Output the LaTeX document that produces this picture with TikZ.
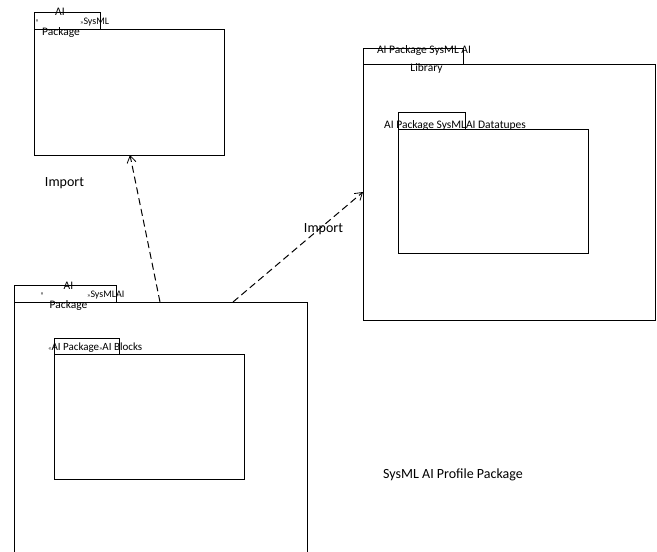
\documentclass[tikz,border=0pt]{standalone}
\usepackage{fontspec}
\setmainfont{Carlito}
\usetikzlibrary{arrows.meta,calc}
\begin{document}
\begin{tikzpicture}[x=1pt,y=-1pt,
  box/.style={draw=black,line width=0.8pt,anchor=north west,inner sep=0pt,outer sep=0pt},
  frame/.style={anchor=north west,inner sep=0pt,outer sep=0pt},
  lbl/.style={inner sep=0pt,font=\fontsize{14}{16}\selectfont},
  tabtxt/.style={inner sep=0pt,font=\fontsize{11.5}{13}\selectfont},
  smtxt/.style={inner sep=0pt,font=\fontsize{10}{12}\selectfont},
  guil/.style={inner sep=0pt,font=\fontsize{6.5}{8}\selectfont},
  imp/.style={draw=black,line width=1pt,dash pattern=on 7pt off 4pt,-{Straight Barb[length=7pt,width=9pt,line width=0.8pt]}}]
\useasboundingbox (0,0) rectangle (657,552);
\fill[white] (0,0) rectangle (657,552);

% top-left package
\node[box,minimum width=66,minimum height=17] (tltab) at (34,12) {};
\node[box,minimum width=190,minimum height=126] (tlbody) at (34,29) {};
\node[tabtxt] (tlai) at (60,12) {AI};
\node[tabtxt] (tlpk) at (61,32) {Package};
\node[guil] (tlgl) at (37,21) {«};
\node[smtxt,anchor=west] (tlsys) at (80,22) {\fontsize{6.5}{8}\selectfont»\fontsize{10}{12}\selectfont SysML};

% right package
\node[box,minimum width=100,minimum height=16] (rtab) at (363,48) {};
\node[box,minimum width=292,minimum height=256] (rbody) at (363,64) {};
\node[tabtxt] (rt1) at (424,50) {AI Package SysML AI};
\node[tabtxt] (rt2) at (426.5,68) {Library};
\node[box,minimum width=67,minimum height=17] (ritab) at (398,112) {};
\node[box,minimum width=190,minimum height=124] (ribody) at (398,129) {};
\node[tabtxt,anchor=west] (rit) at (384,125) {AI Package SysMLAI Datatupes};

% bottom-left package
\node[box,minimum width=102,minimum height=17] (bltab) at (14,285) {};
\node[frame,minimum width=293,minimum height=250] (blbody) at (14,302) {};
\draw[line width=0.8pt] (blbody.south west) -- (blbody.north west) -- (blbody.north east) -- (blbody.south east);
\node[tabtxt] (blai) at (68.5,286) {AI};
\node[guil] (blgl) at (42,294) {«};
\node[smtxt,anchor=west] (blsys) at (87,295) {\fontsize{6.5}{8}\selectfont»\fontsize{10}{12}\selectfont SysMLAI};
\node[tabtxt] (blpk) at (68.5,305) {Package};
\node[box,minimum width=65,minimum height=16] (blitab) at (54,338) {};
\node[box,minimum width=190,minimum height=125] (blibody) at (54,354) {};
\node[tabtxt,anchor=west] (blit) at (48,348) {\fontsize{6.5}{8}\selectfont«\fontsize{11}{13}\selectfont AI Package\fontsize{6.5}{8}\selectfont»\fontsize{11}{13}\selectfont AI Blocks};

% import arrows
\draw[imp] ($(blbody.north west)+(146,0)$) -- ($(tlbody.south west)+(96,0)$);
\draw[imp] ($(blbody.north west)+(219,0)$) -- ($(rbody.north west)+(0,128)$);

% labels
\node[lbl] (imp1) at (64.5,183) {Import};
\node[lbl] (imp2) at (323.5,229) {Import};
\node[lbl] (prof) at (453,475) {SysML AI Profile Package};
\end{tikzpicture}
\end{document}
